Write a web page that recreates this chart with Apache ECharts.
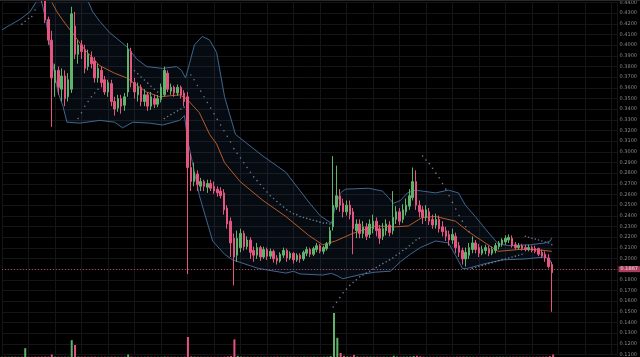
<!DOCTYPE html>
<html><head><meta charset="utf-8">
<script src="https://cdn.jsdelivr.net/npm/echarts@6/dist/echarts.min.js"></script>
<style>html,body{margin:0;padding:0;background:#000;}#c{width:640px;height:357px;}</style>
</head><body><div id="c"></div>
<script>
// ---- data (candle index, prices) ----
const opens = [
.452,.455,.452,.456,.459,.457,.461,.458,.462,.460,.457,.452,.448,.444,.4241,.4047,.3649,.3764,.3587,.3711,
.3516,.3587,.4179,.3914,.4003,.3958,.3799,.3888,.3852,.3693,.3764,.3676,.3561,.3640,.3472,.3410,.3499,.3437,.3561,.3941,
.3649,.3534,.3605,.3472,.3534,.3428,.3499,.3446,.3490,.3534,.3737,.3569,.3605,.3552,.3605,.3552,.3516,.2853,.2721,.2792,
.2677,.2721,.2668,.2703,.2677,.2650,.2632,.2615,.2473,.2350,.2190,
.2031,.2102,.2235,.2111,.2173,.2075,.2031,.2102,.2014,.2084,.2022,.2067,.2005,.1978,.2031,.2075,.2005,.2049,.1987,.2031,
.1996,.2049,.2084,.2040,.2084,.2120,.2067,.2093,.2137,
.2297,.2482,.2588,.2517,.2438,.2500,.2438,.2261,.2323,.2235,.2297,.2226,.2279,.2350,.2279,.2208,.2261,
.2314,.2261,.2367,.2438,.2367,.2438,.2491,.2571,.2721,.2500,.2456,.2385,.2438,.2367,.2314,.2367,.2297,.2261,.2226,.2173,
.2208,.2120,.2075,.1996,.2031,.2084,.2146,.2102,.2049,.2075,.2093,.2049,.2075,.2111,.2137,.2155,.2173,.2190,.2129,.2102,
.2120,.2102,.2084,.2102,.2093,.2093,.2058,.2040,.2005,.1943];
const closes = [
.455,.452,.456,.459,.457,.461,.458,.462,.460,.457,.452,.448,.444,.4241,.4047,.3693,.3764,.3605,.3711,.3499,
.3676,.4294,.3914,.4003,.3941,.3782,.3914,.3826,.3693,.3782,.3649,.3561,.3649,.3472,.3401,.3499,.3428,.3516,.3958,.3649,
.3561,.3605,.3472,.3534,.3428,.3516,.3446,.3499,.3605,.3764,.3587,.3605,.3552,.3605,.3534,.3472,.2853,.2721,.2809,.2694,
.2721,.2677,.2703,.2659,.2632,.2615,.2588,.2456,.2323,.2146,.2014,
.2190,.2235,.2111,.2173,.2058,.2031,.2102,.2014,.2084,.2022,.2067,.1996,.1978,.2040,.2075,.2005,.2049,.1987,.2031,.1996,
.2058,.2084,.2040,.2093,.2120,.2067,.2102,.2137,.2261,
.2500,.2588,.2500,.2438,.2500,.2411,.2279,.2323,.2235,.2297,.2208,.2323,.2350,.2261,.2190,.2279,.2323,
.2243,.2385,.2438,.2350,.2456,.2500,.2588,.2721,.2500,.2438,.2385,.2456,.2350,.2314,.2367,.2279,.2252,.2208,.2173,.2226,
.2102,.2058,.1996,.2058,.2102,.2146,.2084,.2049,.2084,.2102,.2049,.2084,.2120,.2146,.2173,.2190,.2199,.2120,.2102,.2120,
.2093,.2084,.2102,.2075,.2067,.2040,.2022,.2005,.1925,.1867];
const lows = [
.449,.448,.450,.453,.454,.455,.455,.452,.456,.453,.449,.444,.440,.4206,.4003,.3234,.3516,.3534,.3472,.3428,
.3472,.3552,.3870,.3826,.3870,.3737,.3764,.3782,.3649,.3649,.3605,.3534,.3516,.3428,.3340,.3375,.3357,.3384,.3516,.3605,
.3499,.3472,.3428,.3428,.3384,.3393,.3410,.3419,.3463,.3516,.3561,.3534,.3516,.3525,.3499,.3428,.1854,.2632,.2677,.2632,
.2632,.2632,.2615,.2632,.2606,.2579,.2562,.2411,.2279,.2014,.1748,
.1969,.2058,.2075,.2084,.1996,.1969,.1996,.1978,.1996,.1987,.1996,.1961,.1943,.1961,.2005,.1969,.1987,.1952,.1969,.1961,
.1978,.2022,.2014,.2022,.2058,.2049,.2040,.2075,.2120,
.2261,.2456,.2438,.2385,.2403,.2367,.2040,.2190,.2190,.2190,.2173,.2190,.2235,.2208,.2137,.2173,.2217,
.2208,.2226,.2323,.2314,.2332,.2403,.2456,.2544,.2456,.2385,.2323,.2350,.2314,.2279,.2279,.2243,.2208,.2164,.2120,.2137,
.2049,.2014,.1943,.1925,.1996,.2049,.2049,.2014,.2031,.2040,.2022,.2031,.2049,.2084,.2111,.2129,.2146,.2102,.2084,.2084,
.2075,.2067,.2067,.2058,.2049,.2022,.2005,.1969,.1907,.1501];
const highs = [
.458,.458,.459,.462,.463,.465,.464,.468,.466,.464,.460,.456,.452,.447,.4268,.4135,.3826,.3799,.3782,.3764,
.3737,.4360,.4312,.4047,.4047,.4003,.3958,.3941,.3888,.3826,.3799,.3711,.3676,.3676,.3516,.3534,.3534,.3552,.4020,.3976,
.3693,.3649,.3631,.3587,.3561,.3561,.3534,.3534,.3640,.3799,.3764,.3640,.3622,.3631,.3622,.3578,.3561,.2986,.2898,.2827,
.2756,.2739,.2739,.2739,.2721,.2677,.2668,.2650,.2500,.2385,.2235,
.2261,.2279,.2261,.2208,.2199,.2111,.2146,.2120,.2111,.2102,.2093,.2084,.2031,.2058,.2102,.2093,.2067,.2058,.2049,.2049,
.2075,.2111,.2102,.2111,.2146,.2137,.2120,.2155,.2297,
.2960,.2871,.2650,.2562,.2544,.2544,.2473,.2367,.2367,.2350,.2332,.2367,.2411,.2385,.2314,.2332,.2367,
.2350,.2632,.2491,.2473,.2509,.2562,.2650,.2853,.2827,.2544,.2491,.2500,.2473,.2411,.2420,.2403,.2350,.2297,.2261,.2279,
.2243,.2155,.2102,.2102,.2146,.2208,.2173,.2137,.2120,.2129,.2120,.2111,.2146,.2164,.2190,.2217,.2226,.2217,.2155,.2146,
.2137,.2129,.2129,.2120,.2120,.2102,.2084,.2067,.2040,.1969];
const volumes = [
.4,.4,.3,.4,.4,.3,.4,11,.4,.3,.4,.4,.5,.6,.5,3,.5,.4,.3,.4,
.4,21,15,.5,.4,.4,.3,.4,.4,.3,.4,.3,.3,.4,.4,.3,.3,.4,3,.5,
.3,.3,.3,.3,.4,.3,.3,.3,.3,.5,.4,.3,.3,.3,.3,.4,25,.8,.5,.4,
.3,.3,.3,.3,.3,.3,.3,.5,.8,1.2,22,
1.5,.6,.4,.4,.3,.3,.4,.3,.3,.3,.3,.4,.5,.3,.3,.4,.3,.4,.3,.3,
.4,.3,.3,.4,.3,.3,.4,.5,1,
55,24,5,1.5,.8,.6,2.5,.6,.4,.4,.5,.4,.4,.4,.3,.4,.3,
.3,1.5,.6,.4,.5,.5,.6,1.2,1.5,.8,.4,.3,.3,.3,.3,.3,.3,.3,.3,.3,
.4,.4,.5,.4,.3,.3,.3,.3,.3,.3,.3,.3,.3,.3,.3,.3,.3,.3,.3,.3,
.3,.3,.3,.3,.3,.3,.4,.5,1.2,3];
// Bollinger upper / lower / basis, read as [candle index, price]
const upperBand = [[24,.4600],[25.9,.4418],[27.4,.4312],[29.5,.4224],[32.5,.4118],[37.7,.3985],[40.7,.3870],[43.7,.3799],
[48.5,.3782],[52.7,.3799],[54.2,.3764],[55.4,.3693],[56.6,.3826],[58.1,.4003],[60.5,.4082],[62.7,.4047],[64.8,.3932],
[67.2,.3516],[70.5,.3163],[78.8,.2960],[85.7,.2809],[92.6,.2530],[96.1,.2400],[99.5,.2330],[100.7,.2500],[102.2,.2615],
[103.7,.2650],[110.7,.2659],[114.9,.2632],[116.7,.2571],[118.2,.2517],[120.3,.2544],[122.4,.2615],[124.8,.2641],[130.9,.2615],
[134.8,.2641],[137.8,.2615],[139.9,.2500],[142.9,.2394],[145.9,.2279],[149.8,.2137],[153.4,.2120],[159.5,.2129],
[164,.2146],[165.5,.2164],[166,.2195]];
const lowerBand = [[0,.4144],[2.4,.4188],[5.4,.4241],[8.4,.4312],[10.2,.4400],[11.4,.4490],[13.3,.4224],[15.1,.3870],
[16.9,.3560],[18.4,.3428],[19.6,.3278],[23.5,.3269],[29.5,.3295],[34,.3278],[36.4,.3225],[39.5,.3278],[44.6,.3269],
[48.5,.3251],[53.6,.3295],[55.1,.3340],[56,.3119],[57.5,.2898],[59.6,.2588],[63.6,.2164],[67.2,.2040],[69.6,.1987],
[77.4,.1907],[85.7,.1863],[88,.1880],[90,.1855],[96.8,.1845],[99.5,.1860],[101.3,.1837],[102.8,.1810],[108.9,.1854],
[112.8,.1872],[117.3,.1881],[120.3,.1969],[123.3,.2040],[126.3,.2102],[130.9,.2164],[134.8,.2146],[136.9,.2031],
[139,.1907],[140.5,.1907],[145.9,.1952],[151,.1987],[158,.1996],[164,.2014],[165.5,.1987],[166,.1934]];
const basisLine = [[15.1,.4400],[16.6,.4312],[19,.4206],[21.4,.4109],[25,.3958],[29.5,.3808],[34,.3737],[37.7,.3693],
[41.6,.3605],[43.7,.3560],[47.6,.3516],[50.6,.3525],[53.6,.3534],[55.7,.3499],[59.6,.3366],[62.7,.3163],[64.8,.3074],
[67.2,.2898],[71.9,.2721],[78.8,.2544],[85.7,.2394],[92.6,.2217],[96.8,.2129],[100.7,.2164],[105.9,.2235],[112.8,.2305],
[118.8,.2297],[122.7,.2305],[126.9,.2385],[130.9,.2394],[136.9,.2350],[140.8,.2252],[145.9,.2146],[149.8,.2067],
[155.9,.2084],[161,.2084],[166,.2067]];
// Parabolic SAR dots [candle index, price]
const sarDots = [[6,.4197],[7,.4224],[8,.4250],[9,.4268],[10,.4330],
[23,.3313],[24,.3366],[25,.3428],[26,.3472],[27,.3516],[28,.3552],[29,.3587],
[40,.3760],[41,.3731],[42,.3702],[43,.3673],[44,.3644],[45,.3615],[46,.3587],[47,.3560],
[49,.3313],[50,.3331],[51,.3349],[52,.3366],[53,.3384],[54,.3401],[55,.3419],
[57,.3720],[58,.3676],[59,.3622],[60,.3569],[61,.3516],[62,.3463],[63,.3410],[64,.3357],[65,.3304],[66,.3251],
[67,.3198],[68,.3145],[69,.3092],[70,.3030],[71,.2986],[72,.2942],[73,.2898],[74,.2853],[75,.2809],[76,.2765],
[77,.2730],[78,.2694],[79,.2659],[80,.2624],[81,.2588],[82,.2562],[83,.2535],[84,.2509],[85,.2482],[86,.2456],
[87,.2438],[88,.2420],[89,.2411],[90,.2394],[91,.2385],[92,.2376],[93,.2367],[94,.2358],[95,.2350],[96,.2341],
[97,.2332],[98,.2332],[99,.2323],
[100,.1545],[101,.1589],[102,.1633],[103,.1678],[104,.1713],[105,.1748],[106,.1775],[107,.1801],[108,.1828],[109,.1846],
[110,.1863],[111,.1881],[112,.1899],[113,.1916],[114,.1934],[115,.1952],[116,.1969],[117,.1987],[118,.2005],[119,.2031],
[120,.2049],[121,.2075],[122,.2093],[123,.2120],[124,.2146],[125,.2173],[126,.2190],
[127,.2960],[128,.2924],[129,.2889],[130,.2845],[131,.2800],[132,.2756],[133,.2703],[134,.2650],[135,.2588],
[136,.2526],[137,.2464],[138,.2403],[139,.2350],[140,.2297],[141,.2252],
[142,.1907],[143,.1916],[144,.1925],[145,.1934],[146,.1943],[147,.1952],[148,.1961],[149,.1969],[150,.1978],
[151,.1987],[152,.1996],[153,.2005],[154,.2014],[155,.2022],[156,.2031],[157,.2040],
[158,.2208],[159,.2199],[160,.2190],[161,.2182],[162,.2173],[163,.2164],[164,.2155],[165,.2146],[166,.2129]];
// right-side price tags
const tagValues = [0.2195, 0.2129, 0.2067, 0.1934, 0.1867];
const tagColors = ['#3b8fd9', '#3b8fd9', '#e8803a', '#3b8fd9', '#e0507a'];

const UP = '#5fb36a', DOWN = '#e4557f';
const candleData = opens.map((o, k) => [k, o, closes[k], lows[k], highs[k]]);
const volData = volumes.map((v, k) => ({value: [k, v], itemStyle: {color: closes[k] >= opens[k] ? UP : DOWN}}));

const chart = echarts.init(document.getElementById('c'), null, {renderer: 'canvas'});
const XMAX = 185.84;
chart.setOption({
  backgroundColor: '#000000',
  animation: false,
  grid: [
    {left: 2, right: 21, top: -9.95, bottom: -6.33},
    {left: 2, right: 21, top: 277, bottom: 0}
  ],
  xAxis: [
    {type: 'value', min: 0, max: XMAX, interval: 8, gridIndex: 0,
     axisLine: {show: false}, axisTick: {show: false}, axisLabel: {show: false},
     splitLine: {show: true, lineStyle: {color: '#151518', width: 1}}},
    {type: 'value', min: 0, max: XMAX, gridIndex: 1, show: false}
  ],
  yAxis: [
    {type: 'value', position: 'right', min: 0.11, max: 0.44, interval: 0.01, gridIndex: 0,
     axisLine: {show: false}, axisTick: {show: false},
     axisLabel: {color: '#8a8a8a', fontSize: 5, margin: 2, fontFamily: 'DejaVu Sans',
       formatter: v => v.toFixed(4)},
     splitLine: {show: true, lineStyle: {color: '#151518', width: 1}}},
    {type: 'value', min: 0, max: 100, gridIndex: 1, show: false}
  ],
  graphic: [
    {type: 'rect', shape: {x: 0, y: 0, width: 640, height: 1}, style: {fill: '#2a2a2a'}, z: 100}
  ],
  series: [
    {type: 'custom', name: 'bbfill', xAxisIndex: 0, yAxisIndex: 0, data: [[0, 0.3]], encode: {x: 0, y: 1}, z: 1, silent: true,
     renderItem: (params, api) => {
       const pts = upperBand.map(p => api.coord(p)).concat(lowerBand.slice().reverse().map(p => api.coord(p)));
       return {type: 'polygon', shape: {points: pts}, style: {fill: 'rgba(45,80,125,0.14)'}};
     }},
    {type: 'line', name: 'upper', data: upperBand, showSymbol: false, z: 2,
     lineStyle: {color: '#3f6690', width: 1}},
    {type: 'line', name: 'lower', data: lowerBand, showSymbol: false, z: 2,
     lineStyle: {color: '#3f6690', width: 1}},
    {type: 'line', name: 'basis', data: basisLine, showSymbol: false, z: 2,
     lineStyle: {color: '#b85a28', width: 1}},
    {type: 'scatter', name: 'sar', data: sarDots, symbolSize: 1.6, z: 3,
     itemStyle: {color: '#8797b0'}},
    {type: 'candlestick', name: 'price', data: candleData, encode: {x: 0, y: [1, 2, 3, 4]}, barWidth: 2, z: 4,
     itemStyle: {color: UP, color0: DOWN, borderColor: UP, borderColor0: DOWN, borderWidth: 1},
     markLine: {
       symbol: ['none', 'none'], silent: true, animation: false,
       data: tagValues.map((v, k) => ({
         yAxis: v,
         lineStyle: k === 4 ? {color: '#e0507a', type: [1, 2], width: 1, opacity: 0.75} : {opacity: 0},
         label: {show: true, position: 'end', distance: 1, formatter: v.toFixed(4), fontSize: 5,
           color: '#ffffff', backgroundColor: tagColors[k], padding: [1, 2, 0, 2], fontFamily: 'DejaVu Sans'}
       }))
     }},
    {type: 'bar', name: 'vol', xAxisIndex: 1, yAxisIndex: 1, data: volData, barWidth: 2, z: 2}
  ]
});
</script></body></html>
